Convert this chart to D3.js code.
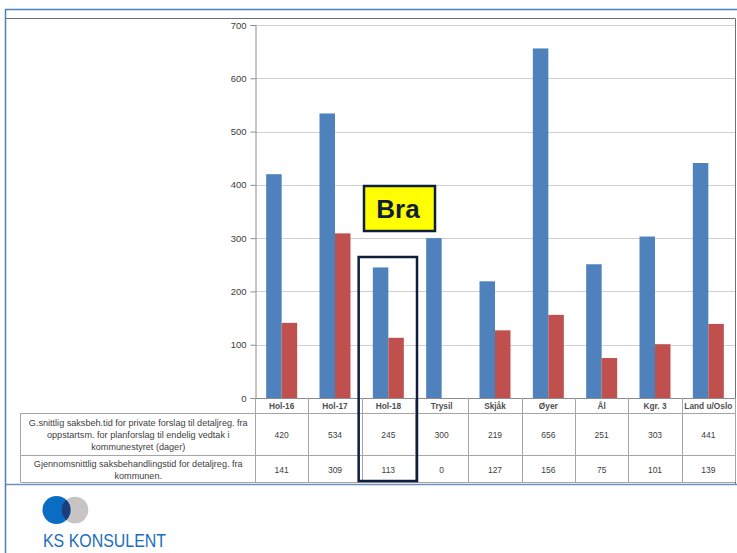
<!DOCTYPE html>
<html>
<head>
<meta charset="utf-8">
<script src="https://cdn.jsdelivr.net/npm/d3@7"></script>
<style>
  body { margin: 0; background: #fff; }
  svg { display: block; }
  .axis text { font-family: "Liberation Sans", Arial, sans-serif; font-size: 9.5px; fill: #404040; }
</style>
</head>
<body>
<div id="chart"></div>
<script>
// ---- data ----
var categories = ["Hol-16", "Hol-17", "Hol-18", "Trysil", "Skjåk", "Øyer", "Ål", "Kgr. 3", "Land u/Oslo"];
var privateTime = [420, 534, 245, 300, 219, 656, 251, 303, 441];   // blue
var municipalTime = [141, 309, 113, 0, 127, 156, 75, 101, 139];   // red
var yTicks = [0, 100, 200, 300, 400, 500, 600, 700];
var row1Label = ["G.snittlig saksbeh.tid for private forslag til detaljreg. fra",
                 "oppstartsm. for planforslag til endelig vedtak i",
                 "kommunestyret  (dager)"];
var row2Label = ["Gjennomsnittlig saksbehandlingstid for detaljreg. fra",
                 "kommunen."];
var seriesKeys = ["private", "municipal"];
var seriesColors = ["#4F81BD", "#C0504D"];

var W = 737, H = 553;
var plot = {left: 255, right: 735, top: 25, bottom: 398};
var font = '"Liberation Sans", Arial, sans-serif';
var textCol = "#404040";

var svg = d3.select("#chart").append("svg")
    .attr("width", W).attr("height", H);

// Outer frame
svg.append("line").attr("x1", 5).attr("y1", 9.5).attr("x2", W).attr("y2", 9.5)
    .attr("stroke", "#4F81BD").attr("stroke-width", 1.5);
svg.append("line").attr("x1", 5.5).attr("y1", 9).attr("x2", 5.5).attr("y2", H)
    .attr("stroke", "#4F81BD").attr("stroke-width", 1.5);
svg.append("line").attr("x1", 6).attr("y1", 18.5).attr("x2", 735.5).attr("y2", 18.5)
    .attr("stroke", "#707070").attr("stroke-width", 1);
svg.append("line").attr("x1", 735.5).attr("y1", 18.5).attr("x2", 735.5).attr("y2", 484)
    .attr("stroke", "#707070").attr("stroke-width", 1);
svg.append("line").attr("x1", 6).attr("y1", 484.5).attr("x2", W).attr("y2", 484.5)
    .attr("stroke", "#6F8FBF").attr("stroke-width", 1.5);

// Scales
var y = d3.scaleLinear().domain([0, 700]).range([plot.bottom, plot.top]);
var x = d3.scaleBand().domain(categories).range([plot.left, plot.right]);
var xs = d3.scaleBand().domain(seriesKeys).range([0, x.bandwidth()])
    .paddingInner(0).paddingOuter(0.72);

// Gridlines
svg.append("g").selectAll("line")
    .data(yTicks.filter(function(d) { return d > 0; }))
    .enter().append("line")
    .attr("x1", plot.left).attr("x2", plot.right)
    .attr("y1", function(d) { return Math.round(y(d)) + 0.5; })
    .attr("y2", function(d) { return Math.round(y(d)) + 0.5; })
    .attr("stroke", "#D0D0D0").attr("stroke-width", 1);

// Bars
var groups = svg.append("g").selectAll("g")
    .data(categories).enter().append("g")
    .attr("transform", function(d) { return "translate(" + x(d) + ",0)"; });
groups.selectAll("rect")
    .data(function(d, i) { return [privateTime[i], municipalTime[i]]; })
    .enter().append("rect")
    .attr("x", function(d, j) { return xs(seriesKeys[j]); })
    .attr("width", xs.bandwidth())
    .attr("y", function(d) { return y(d); })
    .attr("height", function(d) { return y(0) - y(d); })
    .attr("fill", function(d, j) { return seriesColors[j]; });

// Y axis
var yAxis = svg.append("g").attr("class", "axis")
    .attr("transform", "translate(" + (plot.left + 0.5) + ",0)")
    .call(d3.axisLeft(y).tickValues(yTicks).tickSize(5).tickPadding(4));
yAxis.select(".domain").attr("stroke", "#8C8C8C");
yAxis.selectAll(".tick line").attr("stroke", "#8C8C8C");

// Baseline / table
var tbl = {top: 398, head: 413, mid: 455, bottom: 482, left: 20.5};
var gridCol = "#A6A6A6";
var t = svg.append("g");
t.append("line").attr("x1", plot.left).attr("x2", plot.right)
    .attr("y1", tbl.top + 0.5).attr("y2", tbl.top + 0.5).attr("stroke", "#8C8C8C");
[tbl.head, tbl.mid, tbl.bottom].forEach(function(yy) {
    t.append("line").attr("x1", tbl.left).attr("x2", plot.right)
        .attr("y1", yy + 0.5).attr("y2", yy + 0.5).attr("stroke", gridCol);
});
t.append("line").attr("x1", tbl.left).attr("x2", tbl.left)
    .attr("y1", tbl.head).attr("y2", tbl.bottom).attr("stroke", gridCol);
t.selectAll(".vline").data(categories.concat(["end"])).enter().append("line")
    .attr("class", "vline")
    .attr("x1", function(d) { return Math.round(d === "end" ? plot.right : x(d)) + 0.5; })
    .attr("x2", function(d) { return Math.round(d === "end" ? plot.right : x(d)) + 0.5; })
    .attr("y1", tbl.top).attr("y2", tbl.bottom).attr("stroke", gridCol);

// Header labels
t.selectAll(".hdr").data(categories).enter().append("text")
    .attr("x", function(d) { return x(d) + x.bandwidth() / 2; })
    .attr("y", 409)
    .attr("text-anchor", "middle")
    .attr("font-family", font).attr("font-size", "8.3px").attr("font-weight", "bold")
    .attr("fill", "#505050")
    .text(function(d) { return d; });

// Row values
function rowValues(vals, yy) {
    t.append("g").selectAll("text").data(vals).enter().append("text")
        .attr("x", function(d, i) { return x(categories[i]) + x.bandwidth() / 2; })
        .attr("y", yy)
        .attr("text-anchor", "middle")
        .attr("font-family", font).attr("font-size", "8.5px")
        .attr("fill", textCol)
        .text(function(d) { return d; });
}
rowValues(privateTime, 438);
rowValues(municipalTime, 473);

// Row labels
function rowLabel(lines, y0) {
    t.append("g").selectAll("text").data(lines).enter().append("text")
        .attr("x", (tbl.left + plot.left) / 2 + 0.5)
        .attr("y", function(d, i) { return y0 + i * 12; })
        .attr("text-anchor", "middle")
        .attr("font-family", font).attr("font-size", "9.1px")
        .attr("fill", textCol)
        .text(function(d) { return d; });
}
rowLabel(row1Label, 426);
rowLabel(row2Label, 467);

// Highlight box around Hol-18
var navy = "#0F1E3C";
svg.append("rect")
    .attr("x", x("Hol-18") - 3).attr("width", x.bandwidth() + 5)
    .attr("y", 257).attr("height", 224)
    .attr("fill", "none").attr("stroke", navy).attr("stroke-width", 2.5);

// "Bra" label
svg.append("rect")
    .attr("x", 364).attr("y", 186).attr("width", 71).attr("height", 45)
    .attr("fill", "#FFFF00").attr("stroke", navy).attr("stroke-width", 2.5);
svg.append("text")
    .attr("x", 398).attr("y", 218)
    .attr("text-anchor", "middle")
    .attr("font-family", font).attr("font-size", "26px").attr("font-weight", "bold")
    .attr("fill", navy)
    .text("Bra");

// Logo
var logo = svg.append("g");
logo.append("circle").attr("cx", 75).attr("cy", 510).attr("r", 13.3).attr("fill", "#C9C4C4");
logo.append("circle").attr("cx", 56.5).attr("cy", 510).attr("r", 14).attr("fill", "#0A6CC2");
logo.append("clipPath").attr("id", "lens")
    .append("circle").attr("cx", 75).attr("cy", 510).attr("r", 13.3);
logo.append("circle").attr("cx", 56.5).attr("cy", 510).attr("r", 14)
    .attr("fill", "#1B3F7E").attr("clip-path", "url(#lens)");
logo.append("text")
    .attr("x", 43).attr("y", 547)
    .attr("font-family", font).attr("font-size", "18px")
    .attr("fill", "#1A6DBE")
    .attr("textLength", 123).attr("lengthAdjust", "spacingAndGlyphs")
    .text("KS KONSULENT");
</script>
</body>
</html>
